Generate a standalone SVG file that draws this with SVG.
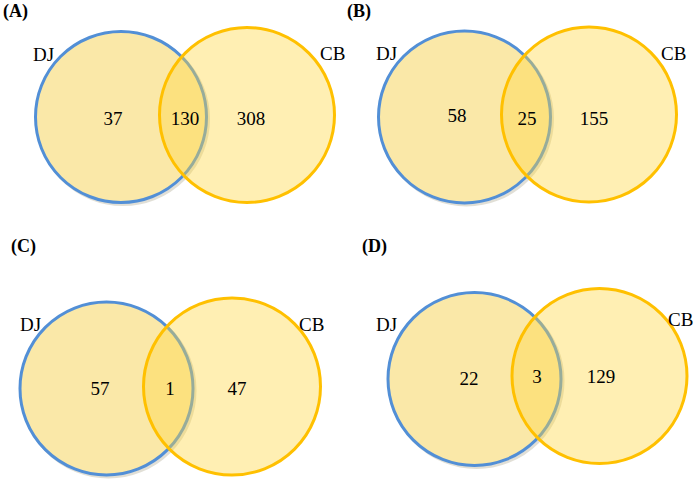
<svg xmlns="http://www.w3.org/2000/svg" width="697" height="482" viewBox="0 0 697 482">
<style>
.bg{fill:#ffffff}
.shadow{fill:none;stroke:#c8c4b4;stroke-width:3;opacity:0.55}
.dj{fill:#FAE8A8;stroke:#528FD6;stroke-width:3}
.cb{fill:#FFD640;fill-opacity:0.4;stroke:none}
.cbs{fill:none;stroke:#FFC000;stroke-width:3}
.lbl{font-family:"Liberation Serif","Times New Roman",serif;font-size:19px;fill:#000}
.num{font-family:"Liberation Serif","Times New Roman",serif;font-size:19px;fill:#000;text-anchor:middle}
.pl{font-family:"Liberation Serif","Times New Roman",serif;font-size:18px;font-weight:bold;fill:#000}
</style>
<rect class="bg" x="0" y="0" width="697" height="482"/>
<g id="panelA">
  <text class="pl" x="3" y="17">(A)</text>
  <g id="A-DJ">
    <circle class="shadow" cx="123" cy="119" r="85.5"/>
    <circle class="dj" cx="121" cy="117" r="85.5"/>
    <text class="lbl" x="33" y="61">DJ</text>
  </g>
  <g id="A-CB">
    <circle class="cb" cx="247" cy="115" r="87.5"/>
    <circle class="cbs" cx="247" cy="115" r="87.5"/>
    <text class="lbl" x="320" y="60">CB</text>
  </g>
  <g id="A-counts">
    <text class="num" x="113" y="125">37</text>
    <text class="num" x="185" y="125">130</text>
    <text class="num" x="251" y="125">308</text>
  </g>
</g>
<g id="panelB">
  <text class="pl" x="347" y="17">(B)</text>
  <g id="B-DJ">
    <circle class="shadow" cx="466.5" cy="119" r="86"/>
    <circle class="dj" cx="464.5" cy="117" r="86"/>
    <text class="lbl" x="376" y="60">DJ</text>
  </g>
  <g id="B-CB">
    <circle class="cb" cx="589" cy="114.5" r="87.5"/>
    <circle class="cbs" cx="589" cy="114.5" r="87.5"/>
    <text class="lbl" x="661" y="60">CB</text>
  </g>
  <g id="B-counts">
    <text class="num" x="457" y="122">58</text>
    <text class="num" x="527" y="125">25</text>
    <text class="num" x="594" y="125">155</text>
  </g>
</g>
<g id="panelC">
  <text class="pl" x="11" y="252">(C)</text>
  <g id="C-DJ">
    <circle class="shadow" cx="108.5" cy="390.5" r="86.5"/>
    <circle class="dj" cx="106.5" cy="388.5" r="86.5"/>
    <text class="lbl" x="20" y="331">DJ</text>
  </g>
  <g id="C-CB">
    <circle class="cb" cx="232" cy="386.5" r="88.5"/>
    <circle class="cbs" cx="232" cy="386.5" r="88.5"/>
    <text class="lbl" x="299" y="331">CB</text>
  </g>
  <g id="C-counts">
    <text class="num" x="100" y="395">57</text>
    <text class="num" x="170" y="395">1</text>
    <text class="num" x="237" y="395">47</text>
  </g>
</g>
<g id="panelD">
  <text class="pl" x="362" y="252">(D)</text>
  <g id="D-DJ">
    <circle class="shadow" cx="476.5" cy="381" r="86.5"/>
    <circle class="dj" cx="474.5" cy="379" r="86.5"/>
    <text class="lbl" x="376" y="331">DJ</text>
  </g>
  <g id="D-CB">
    <circle class="cb" cx="599.5" cy="376" r="87.5"/>
    <circle class="cbs" cx="599.5" cy="376" r="87.5"/>
    <text class="lbl" x="668" y="326">CB</text>
  </g>
  <g id="D-counts">
    <text class="num" x="469" y="385">22</text>
    <text class="num" x="537" y="383">3</text>
    <text class="num" x="601" y="383">129</text>
  </g>
</g>
</svg>
